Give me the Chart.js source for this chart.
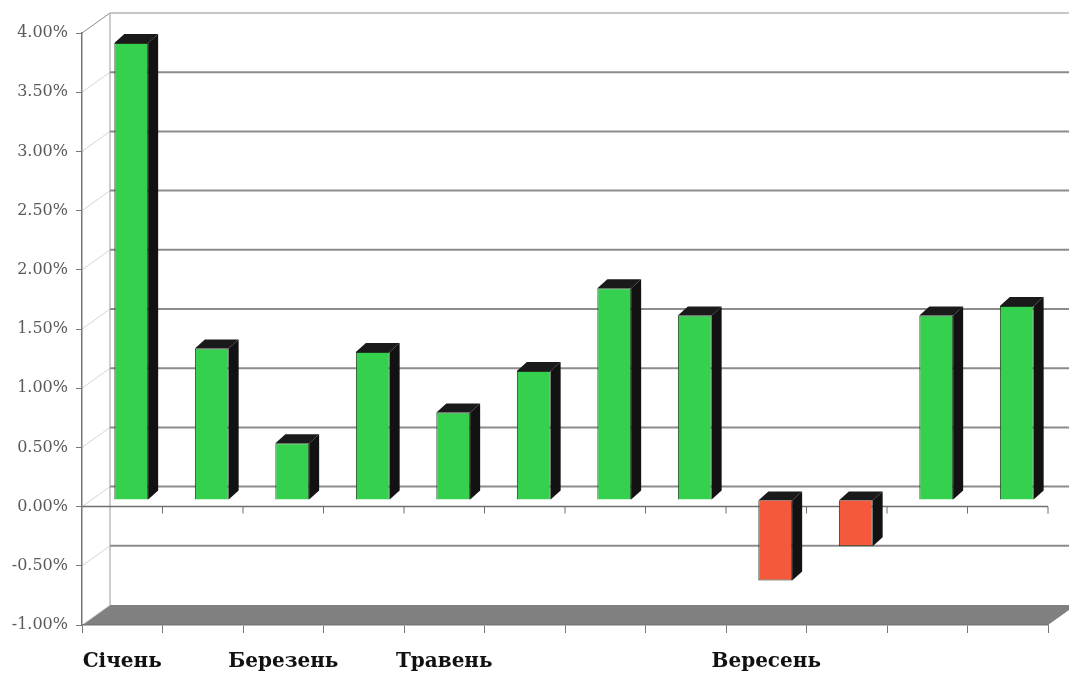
<!DOCTYPE html>
<html>
<head>
<meta charset="utf-8">
<script src="https://cdn.jsdelivr.net/npm/chart.js@4"></script>
<style>
  html, body { margin: 0; padding: 0; background: #ffffff; }
  #wrap { width: 1069px; height: 677px; }
</style>
</head>
<body>
<div id="wrap"><canvas id="c" width="1069" height="677"></canvas></div>
<script>
const categories = ['Січень','Лютий','Березень','Квітень','Травень','Червень','Липень','Серпень','Вересень','Жовтень','Листопад','Грудень'];
const tickLabels = ['Січень','','Березень','','Травень','','','','Вересень','','',''];
const values = [3.86, 1.28, 0.48, 1.25, 0.74, 1.09, 1.79, 1.56, -0.68, -0.39, 1.56, 1.64];
const yMin = -1, yMax = 4, yStep = 0.5;

const GREEN = '#34d04e', RED = '#f3593a';
const WALL = {x: 28, y: -20};
const SHIFT = {x: 9, y: -6.5};
const BDEPTH = {x: 10, y: -9};

const threeD = {
  id: 'threeD',
  beforeDraw(chart) {
    const ctx = chart.ctx;
    const {left, right, top, bottom} = chart.chartArea;
    const ys = chart.scales.y;
    const W = chart.width;
    ctx.save();
    ctx.fillStyle = '#ffffff';
    ctx.fillRect(0, 0, W, chart.height);
    // floor
    ctx.fillStyle = '#808080';
    ctx.beginPath();
    ctx.moveTo(left, bottom);
    ctx.lineTo(left + WALL.x, bottom + WALL.y);
    ctx.lineTo(right + WALL.x, bottom + WALL.y);
    ctx.lineTo(right, bottom);
    ctx.closePath();
    ctx.fill();
    // back wall grid lines + diagonals
    for (let v = yMin; v <= yMax + 1e-9; v += yStep) {
      const y = ys.getPixelForValue(v);
      ctx.strokeStyle = (v >= yMax - 1e-9) ? '#8a8a8a' : '#d6d6d6';
      ctx.lineWidth = 1;
      ctx.beginPath();
      ctx.moveTo(left, y);
      ctx.lineTo(left + WALL.x, y + WALL.y);
      ctx.stroke();
      if (v > yMin + 1e-9) {
        ctx.strokeStyle = (v >= yMax - 1e-9) ? '#b5b5b5' : '#8c8c8c';
        ctx.lineWidth = (v >= yMax - 1e-9) ? 1.5 : 2;
        ctx.beginPath();
        ctx.moveTo(left + WALL.x, y + WALL.y);
        ctx.lineTo(W + 5, y + WALL.y);
        ctx.stroke();
      }
    }
    // back wall left edge
    ctx.strokeStyle = '#9a9a9a';
    ctx.lineWidth = 1;
    ctx.beginPath();
    ctx.moveTo(left + WALL.x, top + WALL.y);
    ctx.lineTo(left + WALL.x, bottom + WALL.y);
    ctx.stroke();
    // front zero line with ticks
    const y0 = ys.getPixelForValue(0);
    ctx.strokeStyle = '#6f6f6f';
    ctx.lineWidth = 1.5;
    ctx.beginPath();
    ctx.moveTo(left, y0);
    ctx.lineTo(right, y0);
    ctx.stroke();
    const n = categories.length;
    ctx.lineWidth = 1;
    for (let k = 1; k <= n; k++) {
      const x = left + k * (right - left) / n;
      ctx.beginPath();
      ctx.moveTo(x, y0);
      ctx.lineTo(x, y0 + 7);
      ctx.stroke();
    }
    ctx.restore();
  },
  beforeDatasetsDraw(chart) {
    const ctx = chart.ctx;
    ctx.save();
    ctx.translate(SHIFT.x, SHIFT.y);
    const meta = chart.getDatasetMeta(0);
    meta.data.forEach((bar) => {
      const p = bar.getProps(['x', 'y', 'base', 'width'], true);
      const t = Math.min(p.y, p.base), b = Math.max(p.y, p.base);
      const l = p.x - p.width / 2, r = p.x + p.width / 2;
      ctx.fillStyle = '#121212';
      ctx.beginPath();
      ctx.moveTo(r, t);
      ctx.lineTo(r + BDEPTH.x, t + BDEPTH.y);
      ctx.lineTo(r + BDEPTH.x, b + BDEPTH.y);
      ctx.lineTo(r, b);
      ctx.closePath();
      ctx.fill();
      ctx.fillStyle = '#1a1a1a';
      ctx.beginPath();
      ctx.moveTo(l, t);
      ctx.lineTo(l + BDEPTH.x, t + BDEPTH.y);
      ctx.lineTo(r + BDEPTH.x, t + BDEPTH.y);
      ctx.lineTo(r, t);
      ctx.closePath();
      ctx.fill();
    });
  },
  afterDatasetsDraw(chart) {
    chart.ctx.restore();
  }
};

new Chart(document.getElementById('c'), {
  type: 'bar',
  data: {
    labels: categories,
    datasets: [{
      data: values,
      backgroundColor: values.map(v => v >= 0 ? GREEN : RED),
      borderColor: '#1e3b22',
      borderWidth: 1,
      barPercentage: 0.42,
      categoryPercentage: 1.0,
      clip: false
    }]
  },
  options: {
    responsive: false,
    animation: false,
    devicePixelRatio: 1,
    layout: { padding: { top: 33, right: 21, left: 0, bottom: 0 } },
    plugins: { legend: { display: false }, tooltip: { enabled: false } },
    scales: {
      x: {
        offset: true,
        grid: { display: true, offset: true, drawOnChartArea: false, drawTicks: true, tickLength: 8, color: '#777' },
        border: { display: true, color: '#777', width: 1.5 },
        ticks: {
          autoSkip: false, maxRotation: 0, minRotation: 0, padding: 17,
          color: '#111',
          font: { family: 'DejaVu Serif', size: 20, weight: 'bold' },
          callback: (val, idx) => tickLabels[idx]
        },
        afterFit: (s) => { s.height = 52; }
      },
      y: {
        min: yMin, max: yMax,
        ticks: {
          stepSize: yStep, padding: 8, color: '#5a5a5a',
          font: { family: 'DejaVu Serif', size: 16 },
          callback: (v) => Number(v).toFixed(2) + '%'
        },
        grid: { display: true, drawOnChartArea: false, drawTicks: true, tickLength: 6, color: '#777' },
        border: { display: true, color: '#777', width: 1.5 },
        afterFit: (s) => { s.width = 82; }
      }
    }
  },
  plugins: [threeD]
});
</script>
</body>
</html>
